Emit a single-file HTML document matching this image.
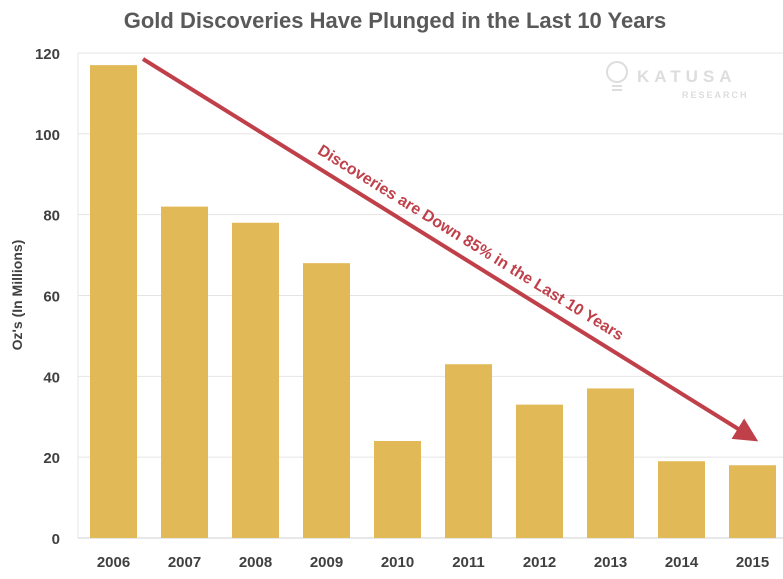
<!DOCTYPE html>
<html><head><meta charset="utf-8"><style>
body{margin:0;background:#fff;font-family:"Liberation Sans",sans-serif}
</style></head><body>
<svg width="783" height="574" viewBox="0 0 783 574">
<text x="395" y="28" text-anchor="middle" font-size="22" font-weight="bold" fill="#595959">Gold Discoveries Have Plunged in the Last 10 Years</text>
<g id="grid"></g><g id="bars"></g><g id="xl"></g><g id="yl"></g>
<text transform="translate(22,295) rotate(-90)" text-anchor="middle" font-size="14" font-weight="bold" fill="#404040">Oz's (In Millions)</text>
<g fill="none" stroke="#ddd" stroke-width="2">
<circle cx="617" cy="72" r="10"/><line x1="612" y1="86" x2="622" y2="86"/><line x1="612" y1="90" x2="622" y2="90"/>
<text x="637" y="82" font-size="17" font-weight="bold" fill="#ddd" stroke="none" letter-spacing="5">KATUSA</text>
<text x="682" y="98" font-size="9" font-weight="bold" fill="#ddd" stroke="none" letter-spacing="2">RESEARCH</text>
</g>
<defs><marker id="ah" markerWidth="6" markerHeight="6" refX="3" refY="3" orient="auto" markerUnits="strokeWidth"><path d="M0,0 L6,3 L0,6 z" fill="#c0404a"/></marker></defs>
<line x1="143" y1="59" x2="748" y2="435" stroke="#c0404a" stroke-width="4" marker-end="url(#ah)"/>
<text transform="translate(468,247) rotate(31.8)" text-anchor="middle" font-size="16" font-weight="bold" fill="#c0404a">Discoveries are Down 85% in the Last 10 Years</text>
</svg>
<script>
const categories=["2006","2007","2008","2009","2010","2011","2012","2013","2014","2015"];
const values=[117,82,78,68,24,43,33,37,19,18];
const yTicks=[0,20,40,60,80,100,120];
const NS="http://www.w3.org/2000/svg";
const y=v=>538-v*(538-53)/120;
const x=i=>78+i*71;
function mk(t,a,p){const e=document.createElementNS(NS,t);for(const k in a)e.setAttribute(k,a[k]);p.appendChild(e);return e;}
const g=document.getElementById('grid'),b=document.getElementById('bars'),xl=document.getElementById('xl'),yl=document.getElementById('yl');
yTicks.forEach(t=>{
 const l=mk('line',{x1:78,x2:783,y1:y(t),y2:y(t),stroke:t?'#e4e4e4':'#d0d0d0','stroke-width':1},g);
 
 
 const tx=mk('text',{x:60,y:y(t)+6,'text-anchor':'end','font-size':15,'font-weight':'bold',fill:'#404040'},yl);
 tx.textContent=t;
 
 
});
mk('line',{x1:78,x2:78,y1:53,y2:538,stroke:'#e4e4e4'},g);
categories.forEach((c,i)=>{
 const r=mk('rect',{x:x(i)+12,y:y(values[i]),width:47,height:538-y(values[i]),fill:'#e2b957'},b);
 
 
 const t=mk('text',{x:x(i)+35.5,y:567,'text-anchor':'middle','font-size':15,'font-weight':'bold',fill:'#404040'},xl);
 t.textContent=c;
 
 
});
</script>
</body></html>
